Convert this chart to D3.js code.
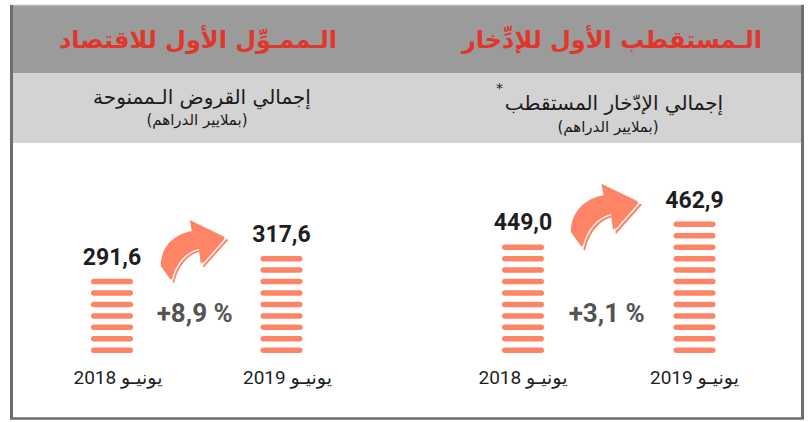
<!DOCTYPE html>
<html><head><meta charset="utf-8">
<script src="https://cdn.jsdelivr.net/npm/d3@7"></script>
<style>
html,body{margin:0;padding:0;background:#fff;}
svg{display:block;}
</style></head>
<body>
<svg id="chart" width="808" height="422"></svg>
<script>
// ---------- data ----------
const panels = ["loans", "savings"];
const headerTitles = ["الـممـوِّل الأول للاقتصاد", "الـمستقطب الأول للإدِّخار"];
const subTitles = ["إجمالي القروض الـممنوحة", "إجمالي الإدّخار المستقطب"];
const unitLabels = ["(بملايير الدراهم)", "(بملايير الدراهم)"];
const periods = ["يونيـو 2018", "يونيـو 2019"];
const loansValues = [291.6, 317.6];
const savingsValues = [449.0, 462.9];
const loansStripes = [7, 9];      // pictogram units as drawn
const savingsStripes = [10, 12];
const growthLabels = ["+8,9 %", "+3,1 %"];

const fmt = v => d3.format(".1f")(v).replace(".", ",");

const svg = d3.select("#chart");
const W = 808, H = 422;
const salmon = "#fe8466";

// ---------- frame ----------
svg.append("rect").attr("x", 0).attr("y", 0).attr("width", W).attr("height", H).attr("fill", "#fff");
svg.append("rect").attr("x", 12).attr("y", 6).attr("width", 789).attr("height", 67).attr("fill", "#9b9b9b");
svg.append("rect").attr("x", 12).attr("y", 73).attr("width", 789).attr("height", 70).attr("fill", "#d3d3d3");
svg.append("line").attr("x1", 10).attr("x2", 804).attr("y1", 5.5).attr("y2", 5.5).attr("stroke", "#b5b5b5").attr("stroke-width", 1.5);
svg.append("line").attr("x1", 11.5).attr("x2", 11.5).attr("y1", 5).attr("y2", 419).attr("stroke", "#6e6e6e").attr("stroke-width", 3);
svg.append("line").attr("x1", 802.5).attr("x2", 802.5).attr("y1", 5).attr("y2", 419).attr("stroke", "#6e6e6e").attr("stroke-width", 3);
svg.append("line").attr("x1", 10).attr("x2", 804).attr("y1", 418.5).attr("y2", 418.5).attr("stroke", "#6e6e6e").attr("stroke-width", 2.5);

// ---------- panel layout ----------
const panelX = d3.scalePoint().domain(panels).range([198, 612]);
const subX = d3.scalePoint().domain(panels).range([202, 614]);

const arabicFont = "'DejaVu Sans', sans-serif";
const numFont = "Roboto, 'DejaVu Sans', sans-serif";

panels.forEach((p, i) => {
  svg.append("text")
    .attr("x", panelX(p)).attr("y", 48)
    .attr("text-anchor", "middle").attr("direction", "rtl")
    .attr("font-family", arabicFont).attr("font-weight", "bold")
    .attr("font-size", 24).attr("fill", "#e0362c")
    .text(headerTitles[i]);
});

// subtitles
const subY = [104, 110];
const unitY = [125, 132];
panels.forEach((p, i) => {
  svg.append("text")
    .attr("x", subX(p)).attr("y", subY[i])
    .attr("text-anchor", "middle").attr("direction", "rtl")
    .attr("font-family", arabicFont).attr("font-size", 20).attr("fill", "#1a1a1a")
    .text(subTitles[i]);
  svg.append("text")
    .attr("x", subX(p) + (i === 0 ? -5 : -6)).attr("y", unitY[i])
    .attr("text-anchor", "middle").attr("direction", "rtl")
    .attr("font-family", arabicFont).attr("font-size", 15).attr("fill", "#1a1a1a")
    .text(unitLabels[i]);
});
// asterisk
svg.append("text").attr("x", 496).attr("y", 93)
  .attr("font-family", arabicFont).attr("font-size", 14).attr("fill", "#1a1a1a").text("*");

// ---------- pictogram bars ----------
const barW = 42, stripeH = 5.5, pitch = 11.45, baseY = 353;
const stripeY = d3.scaleLinear().domain([0, 1]).range([baseY - stripeH, baseY - stripeH - pitch]);

const groups = [
  {values: loansValues, stripes: loansStripes, x: d3.scalePoint().domain(periods).range([112, 281.5]), growth: growthLabels[0], arrowScale: 1.0},
  {values: savingsValues, stripes: savingsStripes, x: d3.scalePoint().domain(periods).range([523, 694.5]), growth: growthLabels[1], arrowScale: 1.05}
];

const arrowPath = "M 0 47 C 0 27, 14 15, 31 12 L 29 1 L 64 18 L 40 45 L 38 29 C 25 31, 14 43, 10 61 Z";

groups.forEach((g, gi) => {
  const gg = svg.append("g");
  periods.forEach((per, j) => {
    const cx = g.x(per);
    const n = g.stripes[j];
    const idx = d3.range(n);
    gg.selectAll(null).data(idx).enter().append("rect")
      .attr("x", cx - barW / 2).attr("y", d => stripeY(d))
      .attr("width", barW).attr("height", stripeH)
      .attr("rx", stripeH / 2).attr("fill", salmon);
    const topY = stripeY(n - 1);
    gg.append("text")
      .attr("x", cx).attr("y", topY - 14)
      .attr("text-anchor", "middle")
      .attr("font-family", numFont).attr("font-weight", "bold")
      .attr("font-size", 23).attr("fill", "#1e1e1e")
      .text(fmt(g.values[j]));
    gg.append("text")
      .attr("x", cx + (gi === 0 ? 6 : 0)).attr("y", 384)
      .attr("text-anchor", "middle").attr("direction", "rtl")
      .attr("font-family", numFont).attr("font-size", 19).attr("fill", "#1e1e1e")
      .text(per);
  });
  // growth arrow
  const mid = (g.x(periods[0]) + g.x(periods[1])) / 2;
  const top2 = stripeY(g.stripes[1] - 1);
  const s = g.arrowScale;
  const ax = mid - 33 * s, ay = top2 - 34 * s;
  const a = gg.append("g").attr("transform", `translate(${ax},${ay}) scale(${s})`);
  a.append("path").attr("d", arrowPath).attr("fill", salmon).attr("stroke", salmon).attr("stroke-width", 1).attr("stroke-linejoin", "round");
  a.append("path").attr("d", arrowPath).attr("transform", "translate(-1.6,-1.6)").attr("fill", "none").attr("stroke", "#fff").attr("stroke-width", 1.3).attr("stroke-linejoin", "round");
  a.append("path").attr("d", arrowPath).attr("transform", "translate(-3,-3)").attr("fill", salmon);
  // growth label
  gg.append("text")
    .attr("x", mid - 2).attr("y", 322)
    .attr("text-anchor", "middle")
    .attr("font-family", numFont).attr("font-weight", "bold")
    .attr("font-size", 26).attr("fill", "#545454")
    .text(g.growth);
});
</script>
</body></html>
